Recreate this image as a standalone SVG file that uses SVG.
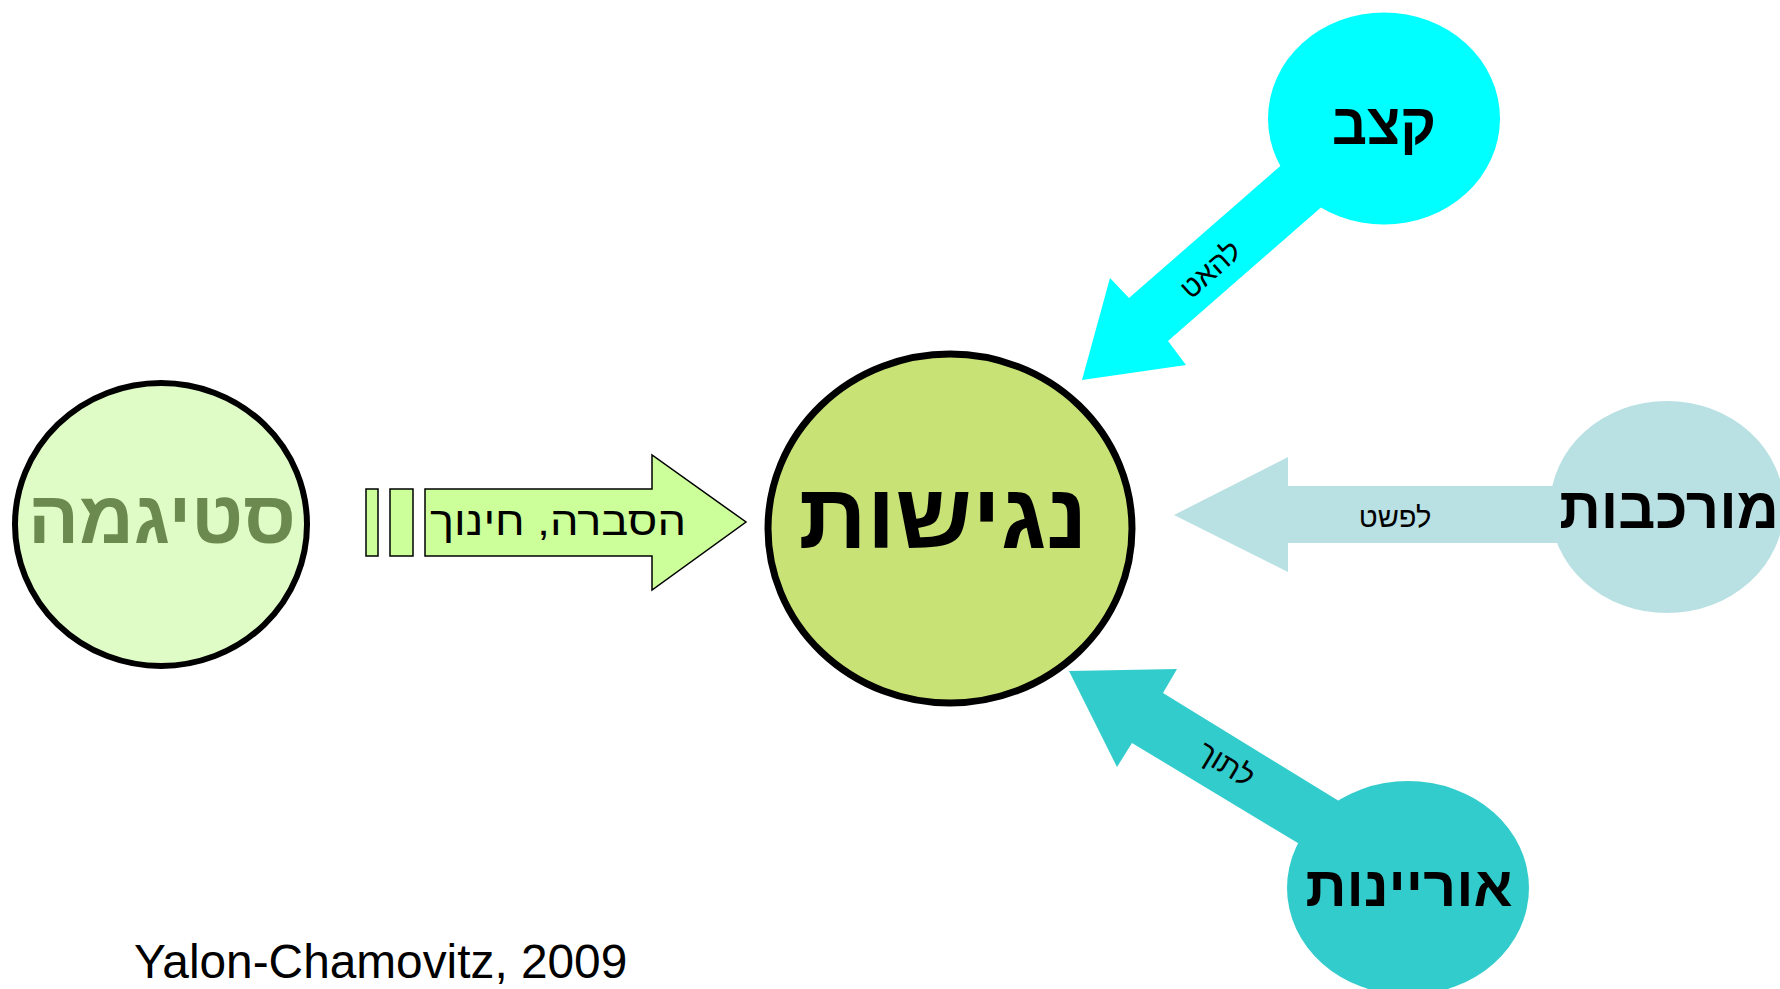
<svg xmlns="http://www.w3.org/2000/svg" width="1780" height="989" viewBox="0 0 1780 989">
<style>
.node-title{font-family:"Liberation Sans","DejaVu Sans",sans-serif;font-weight:bold;text-anchor:middle;fill:#000}
.lbl{font-family:"Liberation Sans","DejaVu Sans",sans-serif;text-anchor:middle;fill:#000}
</style>
<rect width="1780" height="989" fill="#fff"/>
<g id="connectors">
  <g id="arrow-explain">
    <rect x="366" y="489" width="12" height="67" fill="#ccff99" stroke="#000" stroke-width="1.5"/>
    <rect x="390" y="489" width="23" height="67" fill="#ccff99" stroke="#000" stroke-width="1.5"/>
    <polygon points="425,489 652,489 652,455 746,522 652,590 652,556 425,556" fill="#ccff99" stroke="#000" stroke-width="1.5"/>
    <text class="lbl" x="558" y="535" font-size="40" direction="rtl" textLength="256" lengthAdjust="spacingAndGlyphs">הסברה, חינוך</text>
  </g>
  <g id="arrow-slow">
    <polygon points="1309,141 1129,298 1110,278 1082,380 1186,365 1168,341 1350,182" fill="#00ffff"/>
    <text class="lbl" x="0" y="0" font-size="29" direction="rtl" transform="translate(1217,277) rotate(-41.5)">להאט</text>
  </g>
  <g id="arrow-simplify">
    <polygon points="1174,515 1288,457 1288,486 1620,486 1620,543 1288,543 1288,572" fill="#b9e0e3"/>
    <text class="lbl" x="1395" y="527" font-size="29" direction="rtl">לפשט</text>
  </g>
  <g id="arrow-describe">
    <polygon points="1391,833 1163,693 1177,669 1069,671 1117,767 1132,743 1351,875" fill="#33cccc"/>
    <text class="lbl" x="0" y="0" font-size="30" direction="rtl" transform="translate(1221,773) rotate(31)">לתוך</text>
  </g>
</g>
<g id="node-stigma">
  <ellipse cx="161" cy="524.5" rx="146" ry="141.5" fill="#e0fcc6" stroke="#000" stroke-width="6"/>
  <text class="node-title" x="162" y="543" font-size="74" style="fill:#6b8a50" direction="rtl" textLength="268" lengthAdjust="spacingAndGlyphs">סטיגמה</text>
</g>
<g id="node-access">
  <ellipse cx="950" cy="528.5" rx="182" ry="174.5" fill="#c8e276" stroke="#000" stroke-width="7"/>
  <text class="node-title" x="943" y="548" font-size="92" direction="rtl" textLength="289" lengthAdjust="spacingAndGlyphs">נגישות</text>
</g>
<g id="node-pace">
  <ellipse cx="1384" cy="118.5" rx="116" ry="106" fill="#00ffff"/>
  <text class="node-title" x="1384" y="144" font-size="58" direction="rtl" textLength="104" lengthAdjust="spacingAndGlyphs">קצב</text>
</g>
<g id="node-complexity">
  <ellipse cx="1667" cy="507" rx="117" ry="106" fill="#b9e0e3"/>
  <text class="node-title" x="1669" y="528" font-size="58" direction="rtl">מורכבות</text>
</g>
<g id="node-literacy">
  <ellipse cx="1408" cy="888" rx="121" ry="107" fill="#33cccc"/>
  <text class="node-title" x="1409" y="906" font-size="56" direction="rtl" textLength="207" lengthAdjust="spacingAndGlyphs">אוריינות</text>
</g>
<g id="citation">
  <text x="134" y="978" font-family="Liberation Sans, Arial, sans-serif" font-size="47.8" fill="#000">Yalon-Chamovitz, 2009</text>
</g>
</svg>
